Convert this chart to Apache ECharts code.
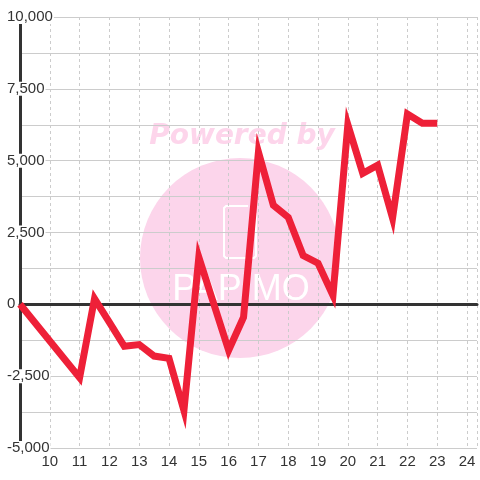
<!DOCTYPE html>
<html>
<head>
<meta charset="utf-8">
<script src="https://cdn.jsdelivr.net/npm/echarts@6/dist/echarts.min.js"></script>
<style>html,body{margin:0;padding:0;background:#fff;}#c{width:480px;height:480px;}</style>
</head>
<body>
<div id="c"></div>
<script>
// Data
var xValues = [9, 11, 11.5, 12, 12.5, 13, 13.5, 14, 14.5, 15, 16, 16.5, 17, 17.5, 18, 18.5, 19, 19.5, 20, 20.5, 21, 21.5, 22, 22.5, 23];
var yValues = [0, -2550, 200, -630, -1460, -1400, -1800, -1880, -3700, 1640, -1600, -450, 5300, 3450, 3030, 1700, 1430, 310, 6250, 4560, 4840, 3000, 6620, 6300, 6300];
var xTickLabels = [10, 11, 12, 13, 14, 15, 16, 17, 18, 19, 20, 21, 22, 23, 24];
var yTickLabels = [-5000, -2500, 0, 2500, 5000, 7500, 10000];

var points = xValues.map(function (x, i) { return [x, yValues[i]]; });

var chart = echarts.init(document.getElementById('c'), null, {renderer: 'canvas'});
var font = "'Liberation Sans', Arial, sans-serif";

// 13 horizontal split lines (-5000..10000 step 1250); the one at 0 is replaced by the dark zero line
var hLineColors = [];
for (var i = 0; i < 13; i++) hLineColors.push(i === 4 ? 'rgba(0,0,0,0)' : '#cccccc');

chart.setOption({
  animation: false,
  backgroundColor: '#ffffff',
  grid: {left: 20, right: 0, top: 17, bottom: 32, containLabel: false},
  graphic: [
    {type: 'circle', z: -10, shape: {cx: 240, cy: 258, r: 100}, style: {fill: '#fcd5eb'}},
    {type: 'text', z: -10, x: 242, y: 137, style: {text: 'Powered by', fill: '#fdd5eb', font: 'italic bold 28px "DejaVu Sans", sans-serif', textAlign: 'center', textVerticalAlign: 'middle'}},
    {type: 'polyline', z: -9, shape: {points: [[248, 206], [226, 206], [224, 208], [224, 256], [226, 258], [254, 258], [256, 256], [256, 214], [254, 212]]}, style: {fill: null, stroke: '#ffffff', lineWidth: 2}},
    {type: 'text', z: -9, x: 241, y: 290, style: {text: 'PAPIMO', fill: '#ffffff', font: 'normal 36px "Liberation Sans", sans-serif', textAlign: 'center', textVerticalAlign: 'middle'}}
  ],
  xAxis: [
    {
      type: 'value', min: 9, max: 24.3333, interval: 1, z: 0,
      axisLine: {show: true, onZero: true, lineStyle: {color: '#333333', width: 3}},
      axisTick: {show: false}, axisLabel: {show: false}, splitLine: {show: false}
    },
    {
      type: 'value', min: 9, max: 24.3333, interval: 1, position: 'bottom', z: 0,
      axisLine: {show: false, onZero: false},
      axisTick: {show: false},
      axisLabel: {
        color: '#333333', fontSize: 15, fontFamily: font, margin: 6,
        showMinLabel: true, showMaxLabel: true,
        formatter: function (v) { return xTickLabels.indexOf(v) >= 0 ? String(v) : ''; }
      },
      splitLine: {show: true, lineStyle: {color: '#cccccc', width: 1, type: [3, 3]}}
    }
  ],
  yAxis: {
    type: 'value', min: -5000, max: 10000, interval: 1250, z: 1,
    axisLine: {show: true, onZero: false, lineStyle: {color: '#333333', width: 3}},
    axisTick: {show: false},
    axisLabel: {
      color: '#333333', fontSize: 15, fontFamily: font, align: 'left', margin: 14,
      backgroundColor: '#ffffff', lineHeight: 14, padding: [0, 1, 0, 1],
      formatter: function (v) { return yTickLabels.indexOf(v) >= 0 ? v.toLocaleString('en-US') : ''; }
    },
    splitLine: {show: true, lineStyle: {color: hLineColors, width: 1}}
  },
  series: [{
    type: 'line', xAxisIndex: 1, data: points, symbol: 'none', z: 2,
    lineStyle: {color: '#ee2038', width: 7, cap: 'butt', join: 'miter', miterLimit: 10}
  }]
});
</script>
</body>
</html>
